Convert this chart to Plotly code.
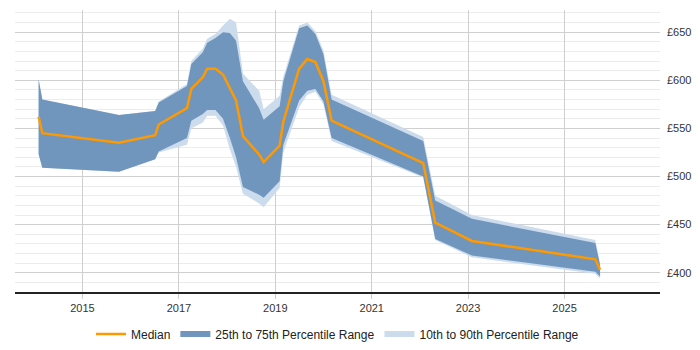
import plotly.graph_objects as go

dates = ["2014-02-03", "2014-03-03", "2015-10-05", "2016-07-05", "2016-08-01",
         "2017-03-03", "2017-04-05", "2017-07-01", "2017-08-03", "2017-10-05",
         "2017-12-01", "2018-01-22", "2018-03-10", "2018-05-01", "2018-09-01",
         "2018-10-05", "2019-02-03", "2019-03-03", "2019-07-01", "2019-09-01",
         "2019-11-01", "2020-01-01", "2020-03-03", "2022-01-26", "2022-04-27",
         "2023-01-30", "2025-08-22", "2025-09-27"]

median = [562, 545, 535, 543, 554, 571, 591, 603, 612, 612, 606, 592, 579, 542,
          523, 515, 532, 557, 612, 622, 619, 599, 558, 514, 452, 433, 414, 403]
p25 = [523, 509, 505, 518, 526, 540, 558, 565, 569, 569, 560, 540, 520, 489,
       481, 478, 495, 533, 579, 589, 591, 578, 540, 500, 435, 418, 401, 396]
p75 = [601, 580, 564, 568, 577, 594, 617, 629, 639, 644, 650, 649, 641, 599,
       571, 559, 573, 599, 654, 657, 648, 627, 580, 537, 475, 456, 431, 408]
p10 = [523, 509, 505, 518, 525, 533, 550, 556, 563, 563, 553, 528, 510, 482,
       472, 468, 488, 525, 572, 585, 588, 575, 537, 499, 434, 416, 399, 394]
p90 = [601, 580, 564, 568, 578, 596, 620, 633, 643, 648, 657, 664, 660, 607,
       589, 570, 584, 604, 657, 660, 651, 631, 585, 541, 480, 460, 434, 410]

y_ticks = [400, 450, 500, 550, 600, 650]
x_ticks = ["2015-01-01", "2017-01-01", "2019-01-01", "2021-01-01", "2023-01-01", "2025-01-01"]
x_labels = ["2015", "2017", "2019", "2021", "2023", "2025"]

fig = go.Figure()

fig.add_trace(go.Scatter(
    x=dates + dates[::-1], y=p90 + p10[::-1],
    fill="toself", fillcolor="rgb(204,220,237)", mode="none",
    line=dict(width=0), name="10th to 90th Percentile Range",
    legendrank=3, hoverinfo="skip"))

fig.add_trace(go.Scatter(
    x=dates + dates[::-1], y=p75 + p25[::-1],
    fill="toself", fillcolor="rgb(112,150,190)", mode="none",
    line=dict(width=0), name="25th to 75th Percentile Range",
    legendrank=2, hoverinfo="skip"))

fig.add_trace(go.Scatter(
    x=dates, y=median, mode="lines",
    line=dict(color="rgb(255,153,0)", width=2.5),
    name="Median", legendrank=1))

fig.update_layout(
    width=700, height=350,
    margin=dict(l=15, r=40, t=10, b=58, autoexpand=False),
    paper_bgcolor="white", plot_bgcolor="white",
    font=dict(family="Liberation Sans, Arial, sans-serif", size=11, color="#333"),
    showlegend=True,
    legend=dict(orientation="h", x=0.5, xanchor="center", y=-0.149, yanchor="middle",
                font=dict(size=12, color="#222"), traceorder="normal",
                itemwidth=30, tracegroupgap=0),
    xaxis=dict(
        type="date", range=["2013-08-08", "2026-12-25"],
        tickvals=x_ticks, ticktext=x_labels,
        showgrid=True, gridcolor="#cfcfcf", gridwidth=1,
        showline=True, linecolor="#222", linewidth=1.5,
        ticks="outside", ticklen=5, tickcolor="#cfcfcf",
        zeroline=False, tickfont=dict(size=11, color="#333")),
    yaxis=dict(
        side="right", range=[380, 673],
        tickvals=y_ticks, ticktext=["£%d" % v for v in y_ticks],
        showgrid=True, gridcolor="#d0d0d0", gridwidth=1,
        minor=dict(dtick=10, tick0=0, showgrid=True, gridcolor="#ececec", gridwidth=1),
        zeroline=False, showline=False, ticks="", ticklabelstandoff=6,
        tickfont=dict(size=11, color="#333")),
)

fig.write_html("out.html")
